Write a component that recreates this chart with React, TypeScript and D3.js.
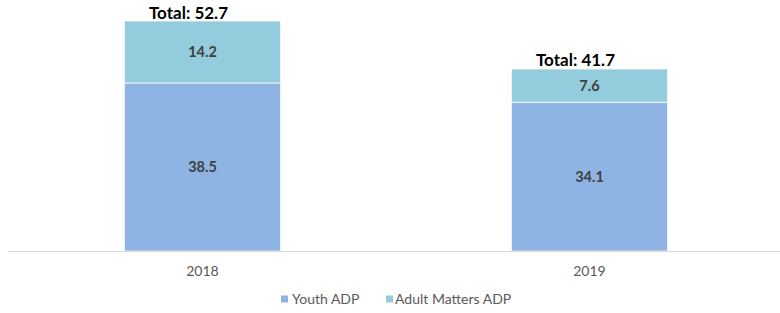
import * as d3 from 'd3';

const YEARS = ['2018', '2019'];
const YOUTH = [38.5, 34.1];
const ADULT = [14.2, 7.6];
const SERIES = ['Youth ADP', 'Adult Matters ADP'];
const COLORS = ['#8eb4e3', '#93cddd'];

const W = 780;
const H = 313;
const margin = { top: 21, right: 0, bottom: 62, left: 8 };

export default function App() {
  const x = d3.scaleBand<string>().domain(YEARS).range([margin.left + 1, W + 3]);
  const totals = YEARS.map((_, i) => YOUTH[i] + ADULT[i]);
  const y = d3
    .scaleLinear()
    .domain([0, d3.max(totals) as number])
    .range([H - margin.bottom, margin.top]);
  const barW = x.bandwidth() * 0.404;

  const stack = d3.stack<number>().keys(['0', '1']).value((i, k) => (k === '0' ? YOUTH[i] : ADULT[i]));
  const layers = stack(YEARS.map((_, i) => i));

  const font = 'Lato, "Open Sans", sans-serif';

  return (
    <svg width={W} height={H} style={{ position: 'absolute', left: 0, top: 0 }} fontFamily={font}>
      {layers.map((layer, si) =>
        layer.map((d, i) => {
          const cx = (x(YEARS[i]) as number) + x.bandwidth() / 2;
          const y0 = y(d[0]);
          const y1 = y(d[1]);
          return (
            <g key={`${si}-${i}`}>
              <rect x={cx - barW / 2} y={y1} width={barW} height={y0 - y1} fill={COLORS[si]} stroke="#fff" strokeWidth={0.75} />
              <text x={cx} y={(y0 + y1) / 2} dy="0.35em" textAnchor="middle" fontSize={14.5} fontWeight="bold" fill="#404040">
                {(si === 0 ? YOUTH[i] : ADULT[i]).toFixed(1)}
              </text>
            </g>
          );
        })
      )}
      <line x1={margin.left} x2={W} y1={y(0) + 0.5} y2={y(0) + 0.5} stroke="#d9d9d9" strokeWidth={1} />
      {YEARS.map((yr, i) => {
        const cx = (x(yr) as number) + x.bandwidth() / 2;
        return (
          <g key={yr}>
            <text x={cx} y={y(0) + 20} dy="0.35em" textAnchor="middle" fontSize={14} fill="#595959">
              {yr}
            </text>
            <text x={cx - 14} y={y(totals[i]) - 2.5 - i} textAnchor="middle" fontSize={17} fontWeight="bold" fill="#000">
              {`Total: ${totals[i].toFixed(1)}`}
            </text>
          </g>
        );
      })}
      <g transform="translate(0,299)">
        <rect x={281} y={-3.5} width={7} height={7} fill={COLORS[0]} />
        <text x={292} y={0} dy="0.35em" fontSize={14} fill="#595959">{SERIES[0]}</text>
        <rect x={386} y={-3.5} width={7} height={7} fill={COLORS[1]} />
        <text x={395} y={0} dy="0.35em" fontSize={14} fill="#595959">{SERIES[1]}</text>
      </g>
    </svg>
  );
}
